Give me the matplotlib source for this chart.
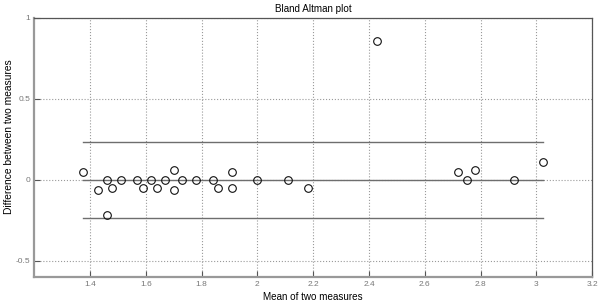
import matplotlib
matplotlib.use("Agg")
import matplotlib.pyplot as plt

plt.rcParams['font.family'] = ['Liberation Sans', 'DejaVu Sans']

# medias e diferencas
means = [1.375, 1.43, 1.46, 1.46, 1.48, 1.51, 1.57, 1.59, 1.62, 1.64,
         1.67, 1.70, 1.70, 1.73, 1.78, 1.84, 1.86, 1.91, 1.91, 2.00,
         2.11, 2.18, 2.43, 2.72, 2.75, 2.78, 2.92, 3.025]
diffs = [0.05, -0.06, 0.0, -0.22, -0.05, 0.0, 0.0, -0.05, 0.0, -0.05,
         0.0, 0.06, -0.06, 0.0, 0.0, 0.0, -0.05, 0.05, -0.05, 0.0,
         0.0, -0.05, 0.86, 0.05, 0.0, 0.06, 0.0, 0.11]
mean_diff = 0.0
upper_loa = 0.233
lower_loa = -0.233

xticks = [1.4, 1.6, 1.8, 2.0, 2.2, 2.4, 2.6, 2.8, 3.0, 3.2]
xticklabels = ['1.4', '1.6', '1.8', '2', '2.2', '2.4', '2.6', '2.8', '3', '3.2']
yticks = [-0.5, 0, 0.5, 1]
yticklabels = ['-0.5', '0', '0.5', '1']

fig = plt.figure(figsize=(6, 3.03), dpi=100)
ax = fig.add_axes([0.057, 0.086, 0.93, 0.855])

x0, x1 = min(means), max(means)
line_col = '#6e6e6e'
ax.plot([x0, x1], [upper_loa, upper_loa], color=line_col, lw=1.0, zorder=2)
ax.plot([x0, x1], [mean_diff, mean_diff], color=line_col, lw=1.0, zorder=2)
ax.plot([x0, x1], [lower_loa, lower_loa], color=line_col, lw=1.0, zorder=2)
ax.plot(means, diffs, 'o', mfc='none', mec='#111111', ms=5.5, mew=0.8, zorder=3)

ax.set_xlim(1.2, 3.2)
ax.set_ylim(-0.6, 1.0)
ax.set_xticks(xticks)
ax.set_xticklabels(xticklabels)
ax.set_yticks(yticks)
ax.set_yticklabels(yticklabels)
ax.grid(True, linestyle=':', color='#9a9a9a', lw=0.8)
ax.set_axisbelow(True)
ax.tick_params(direction='in', length=4, width=0.8, colors='#555555',
               labelsize=6, labelcolor='#777777', pad=3)
for s in ['top', 'right']:
    ax.spines[s].set_color('#555555')
    ax.spines[s].set_linewidth(0.9)
for s in ['left', 'bottom']:
    ax.spines[s].set_color('#999999')
    ax.spines[s].set_linewidth(1.6)

ax.set_title('Bland Altman plot', fontsize=7.1, pad=4)
ax.set_xlabel('Mean of two measures', fontsize=7.1, labelpad=3)
ax.set_ylabel('Difference between two measures', fontsize=7.4)
ax.yaxis.set_label_coords(-0.036, 0.54)

fig.savefig('out.png', dpi=100)
